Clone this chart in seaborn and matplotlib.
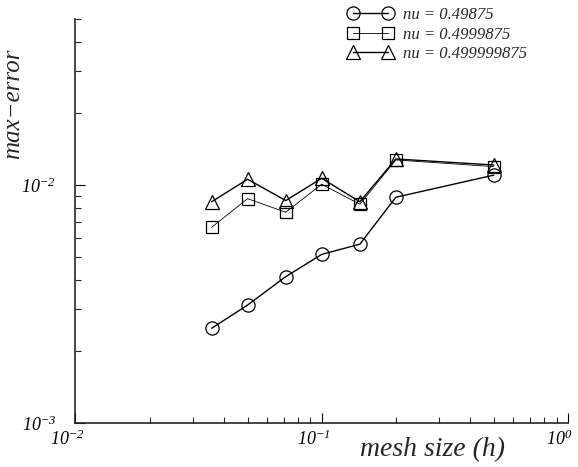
import numpy as np
import pandas as pd
import matplotlib
matplotlib.use('Agg')
import matplotlib.pyplot as plt
import matplotlib.ticker as mticker
import matplotlib.transforms as mtransforms
import seaborn as sns

# mesh sizes h = 1/28 ... 1/2
mesh_size = [1/28, 1/20, 1/14, 1/10, 1/7, 1/5, 1/2]
err_49875 = [0.00250, 0.00313, 0.00412, 0.00511, 0.00564, 0.00888, 0.0110]
err_4999875 = [0.00664, 0.00876, 0.00768, 0.01007, 0.00830, 0.01274, 0.01194]
err_499999875 = [0.00850, 0.01057, 0.00860, 0.01067, 0.00850, 0.01286, 0.01213]
labels = ['nu = 0.49875', 'nu = 0.4999875', 'nu = 0.499999875']

sns.set_style('ticks')
plt.rcParams['font.family'] = ['Liberation Serif', 'DejaVu Serif']
plt.rcParams['mathtext.fontset'] = 'custom'
plt.rcParams['mathtext.it'] = 'Liberation Serif:italic'
plt.rcParams['mathtext.rm'] = 'Liberation Serif:italic'

fig = plt.figure(figsize=(5.78, 4.67), dpi=100)
ax = fig.add_axes([0.1306, 0.0942, 0.852, 0.866])

series = [err_49875, err_4999875, err_499999875]
markers = ['o', 's', '^']
msizes = [9.5, 8, 9.5]
lws = [1.0, 0.6, 1.0]
for err, lab, mk, ms, lw in zip(series, labels, markers, msizes, lws):
    df = pd.DataFrame({'h': mesh_size, 'err': err})
    sns.lineplot(data=df, x='h', y='err', ax=ax, color='black', lw=lw,
                 marker=mk, markersize=ms, mfc='none', mec='black', mew=0.9,
                 label=lab)

ax.set_xscale('log')
ax.set_yscale('log')
ax.set_xlim(1e-2, 1e0)
ax.set_ylim(1e-3, 0.05)

for s in ['top', 'right']:
    ax.spines[s].set_visible(False)
for s in ['left', 'bottom']:
    ax.spines[s].set_linewidth(1.2)

fmt = mticker.FuncFormatter(lambda v, p: r'$\mathit{10^{%d}}$' % round(np.log10(v)))
ax.xaxis.set_major_locator(mticker.LogLocator(base=10, numticks=5))
ax.yaxis.set_major_locator(mticker.LogLocator(base=10, numticks=5))
ax.xaxis.set_major_formatter(fmt)
ax.yaxis.set_major_formatter(fmt)
ax.xaxis.set_minor_locator(mticker.LogLocator(base=10, subs=np.arange(2, 10), numticks=20))
ax.yaxis.set_minor_locator(mticker.LogLocator(base=10, subs=np.arange(2, 10), numticks=20))
ax.xaxis.set_minor_formatter(mticker.NullFormatter())
ax.yaxis.set_minor_formatter(mticker.NullFormatter())
ax.tick_params(which='major', direction='in', length=7, width=0.8, labelsize=13, colors='black')
ax.tick_params(which='minor', direction='in', length=4, width=0.8)
ax.tick_params(axis='x', pad=5)
ax.tick_params(axis='y', pad=14)

# x tick labels sit a little left of their ticks in the original
shift = mtransforms.ScaledTranslation(-6 / 72, 0, fig.dpi_scale_trans)
for t in ax.xaxis.get_major_ticks():
    t.label1.set_transform(t.label1.get_transform() + shift)

ax.set_xlabel('mesh size (h)', fontsize=20, style='italic')
ax.xaxis.set_label_coords(0.724, -0.035)
ax.set_ylabel('max\u2212error', fontsize=18, style='italic')
ax.yaxis.set_label_coords(-0.105, 0.79)

leg = ax.legend(loc='upper left', bbox_to_anchor=(348 / 578, 1 - 7 / 467),
                bbox_transform=fig.transFigure, frameon=False, numpoints=2,
                handlelength=2.7, handletextpad=0.6, labelspacing=0.22,
                borderpad=0, borderaxespad=0,
                prop={'family': 'Liberation Serif', 'style': 'italic', 'size': 12})

fig.savefig('out.png', dpi=100)
